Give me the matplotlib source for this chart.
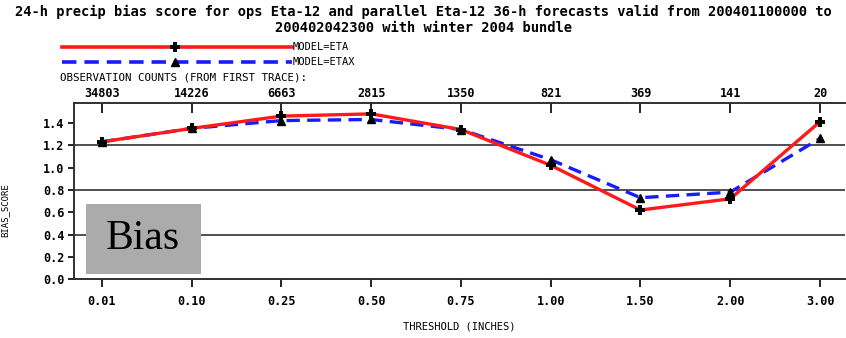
import matplotlib
matplotlib.use("Agg")
import matplotlib.pyplot as plt
from matplotlib.lines import Line2D
from matplotlib.patches import Rectangle

thresholds = ["0.01", "0.10", "0.25", "0.50", "0.75", "1.00", "1.50", "2.00", "3.00"]
obs_counts = ["34803", "14226", "6663", "2815", "1350", "821", "369", "141", "20"]
eta = [1.23, 1.35, 1.46, 1.48, 1.34, 1.02, 0.62, 0.72, 1.41]
etax = [1.23, 1.35, 1.42, 1.43, 1.34, 1.07, 0.73, 0.78, 1.26]
yticks = [0.0, 0.2, 0.4, 0.6, 0.8, 1.0, 1.2, 1.4]
grid_levels = [0.4, 0.8, 1.2]

W, H = 846, 338
fig = plt.figure(figsize=(W / 100, H / 100), dpi=100)
mono = "DejaVu Sans Mono"

def fx(px):
    return px / W

def fy(py):
    return 1 - py / H

ax = fig.add_axes([fx(74), fy(279.3), fx(846) - fx(74) - 0.001, fy(102.7) - fy(279.3)])
x = list(range(len(thresholds)))

for g in grid_levels:
    ax.axhline(g, color="#505050", lw=1.4, zorder=1)

ax.plot(x, eta, color="#ff1a1a", lw=2.4, zorder=3)
ax.plot(x, etax, color="#1a1aff", lw=2.4, ls=(0, (4, 2.2)), zorder=2)
ax.plot(x, eta, ls="none", marker="P", color="black", ms=7, mew=0, zorder=4)
ax.plot(x, etax, ls="none", marker="^", color="black", ms=6, zorder=4)

ax.set_xlim(-0.31, 8.28)
ax.set_ylim(0, 1.58)
ax.set_xticks(x)
ax.set_xticklabels(thresholds, fontfamily=mono, fontweight="bold", fontsize=8.5)
ax.set_yticks(yticks)
ax.set_yticklabels([f"{v:.1f}" for v in yticks], fontfamily=mono, fontweight="bold", fontsize=8.5)
ax.tick_params(axis="x", direction="out", length=6, width=1.2, pad=5, colors="black")
ax.tick_params(axis="y", direction="out", length=4, width=1.2, pad=3)
for s in ["left", "bottom", "top"]:
    ax.spines[s].set_linewidth(1.4)
    ax.spines[s].set_color("#303030")
ax.spines["right"].set_visible(False)

sec = ax.secondary_xaxis("top")
sec.set_xticks(x)
sec.set_xticklabels(obs_counts, fontfamily=mono, fontweight="bold", fontsize=8.5)
sec.tick_params(direction="in", length=7, width=1.2, pad=2)
sec.spines["top"].set_visible(False)

ax.set_xlabel("THRESHOLD (INCHES)", fontfamily=mono, fontsize=7.5, labelpad=10)
fig.text(fx(5), fy(210), "BIAS_SCORE", rotation=90, fontfamily=mono, fontsize=6.5,
         ha="center", va="center")

fig.text(0.5, fy(12), "24-h precip bias score for ops Eta-12 and parallel Eta-12 36-h forecasts valid from 200401100000 to",
         ha="center", va="center", fontfamily=mono, fontweight="bold", fontsize=9.9)
fig.text(0.5, fy(28), "200402042300 with winter 2004 bundle",
         ha="center", va="center", fontfamily=mono, fontweight="bold", fontsize=9.9)

# legend
fig.add_artist(Line2D([fx(62), fx(292)], [fy(47), fy(47)], color="#ff1a1a", lw=2.6, transform=fig.transFigure))
fig.add_artist(Line2D([fx(175)], [fy(47)], marker="P", color="black", ms=7, mew=0, transform=fig.transFigure))
fig.add_artist(Line2D([fx(62), fx(292)], [fy(62), fy(62)], color="#1a1aff", lw=2.6, ls=(0, (4, 2.2)), transform=fig.transFigure))
fig.add_artist(Line2D([fx(175)], [fy(62)], marker="^", color="black", ms=6, transform=fig.transFigure))
fig.text(fx(293), fy(47), "MODEL=ETA", fontfamily=mono, fontsize=7.5, va="center", ha="left")
fig.text(fx(293), fy(62), "MODEL=ETAX", fontfamily=mono, fontsize=7.5, va="center", ha="left")
fig.text(fx(60), fy(78), "OBSERVATION COUNTS (FROM FIRST TRACE):", fontfamily=mono, fontsize=7.8, va="center", ha="left")

# Bias box
fig.add_artist(Rectangle((fx(86), fy(274)), fx(201) - fx(86), fy(204) - fy(274), facecolor="#ababab",
                         edgecolor="none", transform=fig.transFigure, zorder=5))
fig.text(fx(143), fy(239), "Bias", fontfamily="Liberation Serif", fontsize=30, ha="center", va="center", zorder=6)

fig.savefig("out.png", dpi=100)
